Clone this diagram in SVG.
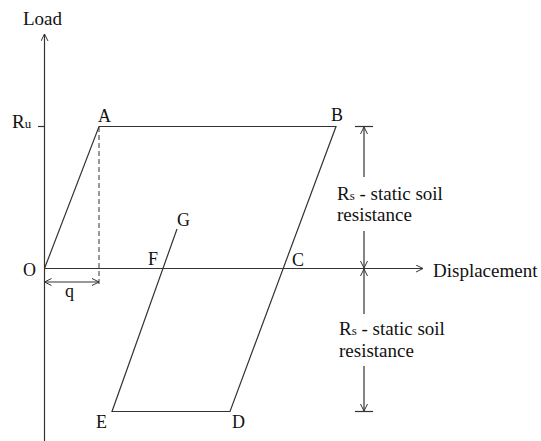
<svg xmlns="http://www.w3.org/2000/svg" width="541" height="441" viewBox="0 0 541 441">
<defs>
<marker id="arr" markerWidth="10" markerHeight="10" refX="8" refY="4" orient="auto-start-reverse" markerUnits="userSpaceOnUse">
<path d="M1,0.5 L8,4 L1,7.5" fill="none" stroke="#333" stroke-width="1"/>
</marker>
</defs>
<style>
.ln{stroke:#333;stroke-width:1.2;fill:none}
.dash{stroke:#333;stroke-width:1;stroke-dasharray:5,3;fill:none}
.t{font-family:"Liberation Serif","Times New Roman",serif;fill:#111}
.big{font-size:19px}
.pt{font-size:18px}
.sub{font-size:13px}
</style>
<rect width="541" height="441" fill="#fff"/>
<g id="connectors">
<line class="ln" x1="44.5" y1="441" x2="44.5" y2="34" marker-end="url(#arr)"/>
<line class="ln" x1="44.5" y1="268.5" x2="423" y2="268.5" marker-end="url(#arr)"/>
<line class="ln" x1="38" y1="126.5" x2="44.5" y2="126.5"/>
<polyline class="ln" points="44.5,268.5 99,126.5 336,126.5 230,411.5 112,411.5 177,229"/>
<line class="dash" x1="99" y1="127" x2="99" y2="286"/>
<line class="ln" x1="44.5" y1="282" x2="99" y2="282" marker-start="url(#arr)" marker-end="url(#arr)"/>
<line class="ln" x1="355" y1="126.5" x2="373" y2="126.5"/>
<line class="ln" x1="364" y1="177" x2="364" y2="127" marker-end="url(#arr)"/>
<line class="ln" x1="364" y1="231" x2="364" y2="268" marker-end="url(#arr)"/>
<line class="ln" x1="364" y1="314" x2="364" y2="269" marker-end="url(#arr)"/>
<line class="ln" x1="364" y1="366" x2="364" y2="411" marker-end="url(#arr)"/>
<line class="ln" x1="355" y1="411.5" x2="373" y2="411.5"/>
</g>
<g id="axis-labels">
<text class="t big" x="23" y="25">Load</text>
<text class="t big" x="433" y="277">Displacement</text>
<text class="t big" x="12" y="128">R<tspan class="sub">u</tspan></text>
</g>
<g id="O"><text class="t pt" x="23" y="276">O</text></g>
<g id="A"><text class="t pt" x="98" y="122">A</text></g>
<g id="B"><text class="t pt" x="331" y="121">B</text></g>
<g id="C"><text class="t pt" x="292" y="266">C</text></g>
<g id="D"><text class="t pt" x="232" y="428">D</text></g>
<g id="E"><text class="t pt" x="96" y="428">E</text></g>
<g id="F"><text class="t pt" x="148" y="265">F</text></g>
<g id="G"><text class="t pt" x="177" y="226">G</text></g>
<g id="q"><text class="t pt" x="65" y="297">q</text></g>
<g id="rs-upper">
<text class="t big" x="337" y="200">R<tspan class="sub">s</tspan> - static soil</text>
<text class="t big" x="337" y="221">resistance</text>
</g>
<g id="rs-lower">
<text class="t big" x="339" y="335">R<tspan class="sub">s</tspan> - static soil</text>
<text class="t big" x="339" y="357">resistance</text>
</g>
</svg>
